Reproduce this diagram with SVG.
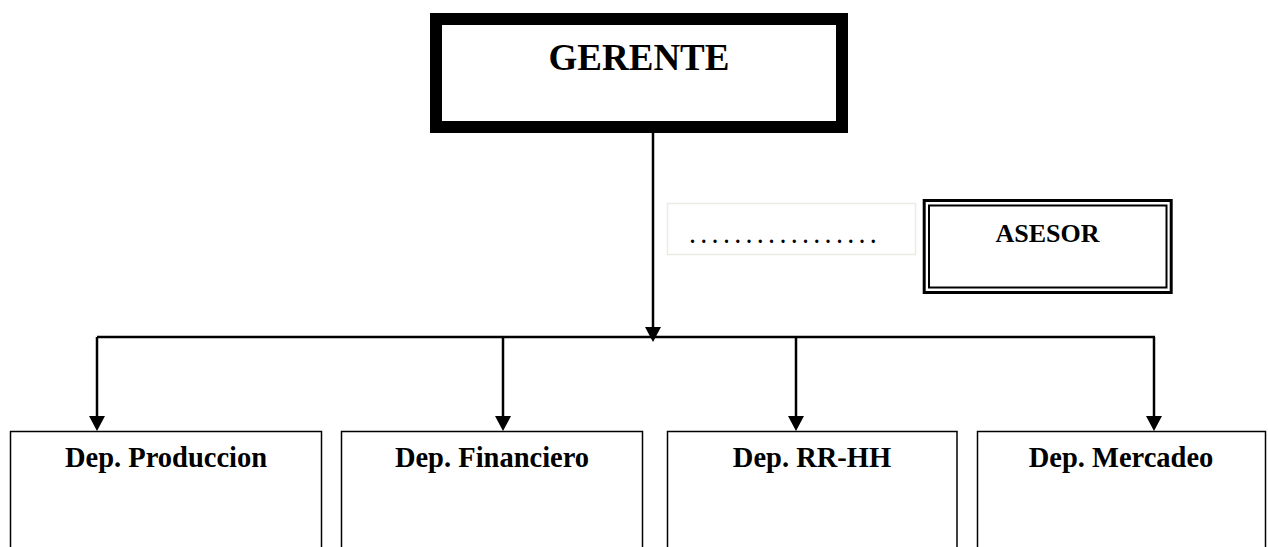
<svg xmlns="http://www.w3.org/2000/svg" width="1268" height="547" viewBox="0 0 1268 547">
  <style>
    .lbl { font-family: "Liberation Serif", "Times New Roman", serif; font-weight: bold; fill: #000; text-anchor: middle; }
    .dept { fill: #fff; stroke: #000; stroke-width: 1.5; }
    .wire { fill: none; stroke: #000; stroke-width: 2.5; }
    .head { fill: #000; }
  </style>

  <rect width="1268" height="547" fill="#fff"/>

  <!-- Connectors: trunk from the manager, bus line, and four drops -->
  <g id="connectors">
    <line class="wire" x1="653" y1="133" x2="653" y2="327"/>
    <path class="head" d="M645,327 L661,327 L653,342 Z"/>
    <line class="wire" x1="97" y1="337" x2="1155" y2="337" stroke-width="2"/>
    <line class="wire" x1="97" y1="337" x2="97" y2="416"/>
    <path class="head" d="M89,416 L105,416 L97,431 Z"/>
    <line class="wire" x1="503" y1="337" x2="503" y2="416"/>
    <path class="head" d="M495,416 L511,416 L503,431 Z"/>
    <line class="wire" x1="796" y1="337" x2="796" y2="416"/>
    <path class="head" d="M788,416 L804,416 L796,431 Z"/>
    <line class="wire" x1="1154" y1="337" x2="1154" y2="416"/>
    <path class="head" d="M1146,416 L1162,416 L1154,431 Z"/>
  </g>

  <!-- Manager -->
  <g id="gerente">
    <rect x="436" y="19" width="406" height="108" fill="#fff" stroke="#000" stroke-width="12"/>
    <text class="lbl" x="639" y="70" font-size="37">GERENTE</text>
  </g>

  <!-- Dotted placeholder -->
  <g id="placeholder">
    <rect x="667.5" y="203.5" width="248" height="51" fill="#fff" stroke="#ecebe2" stroke-width="1.5"/>
    <text x="690" y="243" font-family="Liberation Serif, serif" font-weight="bold" font-size="20" letter-spacing="6.3" fill="#000">.................</text>
  </g>

  <!-- Advisor -->
  <g id="asesor">
    <rect x="924.2" y="200.5" width="247" height="92" fill="#fff" stroke="#000" stroke-width="3"/>
    <rect x="929" y="205.5" width="237.5" height="82" fill="none" stroke="#000" stroke-width="2"/>
    <text class="lbl" x="1047.5" y="242" font-size="26">ASESOR</text>
  </g>

  <!-- Departments -->
  <g id="dep-produccion">
    <rect class="dept" x="10.5" y="431.5" width="311" height="130"/>
    <text class="lbl" x="166" y="467" font-size="28.5">Dep. Produccion</text>
  </g>
  <g id="dep-financiero">
    <rect class="dept" x="341.5" y="431.5" width="301" height="130"/>
    <text class="lbl" x="492" y="467" font-size="28.5">Dep. Financiero</text>
  </g>
  <g id="dep-rrhh">
    <rect class="dept" x="667.5" y="431.5" width="289.5" height="130"/>
    <text class="lbl" x="812" y="467" font-size="28.5">Dep. RR-HH</text>
  </g>
  <g id="dep-mercadeo">
    <rect class="dept" x="977.5" y="431.5" width="288" height="130"/>
    <text class="lbl" x="1121" y="467" font-size="28.5">Dep. Mercadeo</text>
  </g>
</svg>
